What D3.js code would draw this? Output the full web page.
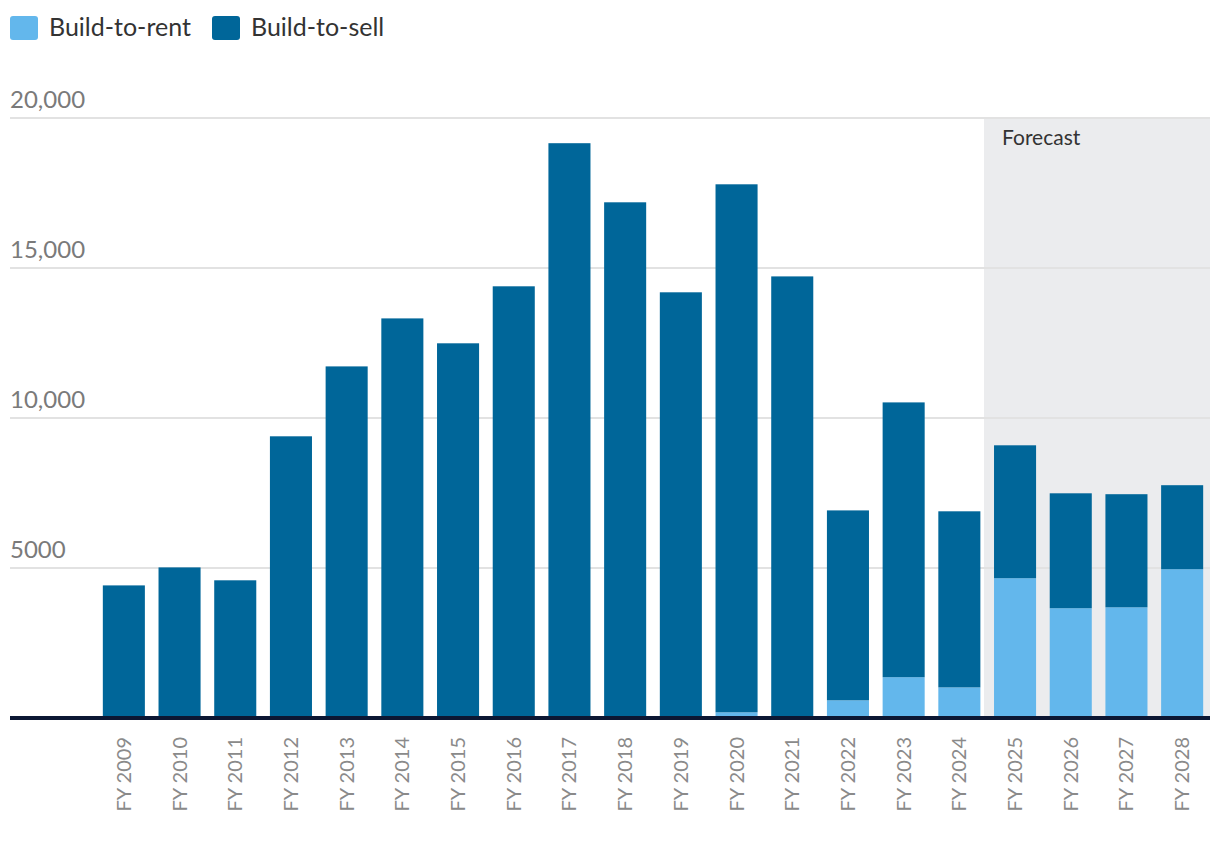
<!DOCTYPE html>
<html>
<head>
<meta charset="utf-8">
<script src="https://cdn.jsdelivr.net/npm/d3@7"></script>
<style>
  html, body { margin: 0; padding: 0; background: #fff; }
  svg { display: block; font-family: Lato, "Open Sans", sans-serif; }
</style>
</head>
<body>
<svg id="chart" width="1220" height="844"></svg>
<script>
const categories = ["FY 2009","FY 2010","FY 2011","FY 2012","FY 2013","FY 2014","FY 2015","FY 2016","FY 2017","FY 2018","FY 2019","FY 2020","FY 2021","FY 2022","FY 2023","FY 2024","FY 2025","FY 2026","FY 2027","FY 2028"];
const buildToRent = [0,0,0,0,0,0,0,0,0,0,0,190,0,590,1360,1020,4660,3660,3690,4960];
const buildToSell = [4420,5020,4590,9390,11720,13320,12490,14390,19160,17190,14190,17600,14720,6330,9160,5870,4430,3830,3770,2800];
const yTicks = [5000, 10000, 15000, 20000];
const yTickLabels = ["5000", "10,000", "15,000", "20,000"];
const seriesNames = ["Build-to-rent", "Build-to-sell"];
const seriesColors = ["#63b7ec", "#006699"];
const forecastStart = "FY 2025";
const forecastLabel = "Forecast";

const svg = d3.select("#chart");
const left = 10, right = 1210;

const x = d3.scaleBand().domain(categories).range([96, 1210]).paddingInner(0.245).paddingOuter(0.1225);
const y = d3.scaleLinear().domain([0, 20000]).range([718, 118]);

// forecast band
const fx = x(forecastStart) - 10;
svg.append("rect").attr("x", fx).attr("y", y(20000)).attr("width", right - fx)
  .attr("height", y(0) - y(20000)).attr("fill", "#ebecee");
svg.append("text").attr("x", fx + 18).attr("y", 145).attr("font-size", 21)
  .attr("fill", "#333").text(forecastLabel);

// gridlines + y labels
const yAxis = svg.append("g");
yAxis.selectAll("line").data(yTicks).join("line")
  .attr("x1", left).attr("x2", right)
  .attr("y1", d => y(d)).attr("y2", d => y(d))
  .attr("stroke", "#e2e2e2").attr("stroke-width", 2);
yAxis.selectAll("text").data(yTicks).join("text")
  .attr("x", left).attr("y", d => y(d) - 10)
  .attr("font-size", 24).attr("fill", "#7a7a7a")
  .text((d, i) => yTickLabels[i]);

// stacked bars
const rows = categories.map((c, i) => ({cat: c, rent: buildToRent[i], sell: buildToSell[i]}));
const stack = d3.stack().keys(["rent", "sell"])(rows);
svg.append("g").selectAll("g").data(stack).join("g")
  .attr("fill", (d, i) => seriesColors[i])
  .selectAll("rect").data(d => d).join("rect")
  .attr("x", d => x(d.data.cat))
  .attr("width", x.bandwidth())
  .attr("y", d => y(d[1]))
  .attr("height", d => Math.max(0, y(d[0]) - y(d[1])));

// x axis
svg.append("line").attr("x1", left).attr("x2", right)
  .attr("y1", y(0)).attr("y2", y(0))
  .attr("stroke", "#0c1733").attr("stroke-width", 4);
svg.append("g").selectAll("text").data(categories).join("text")
  .attr("transform", d => `translate(${x(d) + x.bandwidth() / 2 + 7},737) rotate(-90)`)
  .attr("text-anchor", "end")
  .attr("font-size", 20).attr("fill", "#8a8a8a")
  .text(d => d);

// legend
const legend = svg.append("g");
const legendX = [10, 212];
seriesNames.forEach((name, i) => {
  legend.append("rect").attr("x", legendX[i]).attr("y", 16).attr("width", 28).attr("height", 24)
    .attr("rx", 3).attr("fill", seriesColors[i]);
  legend.append("text").attr("x", legendX[i] + 39).attr("y", 36).attr("font-size", 25)
    .attr("fill", "#333").text(name);
});
</script>
</body>
</html>
